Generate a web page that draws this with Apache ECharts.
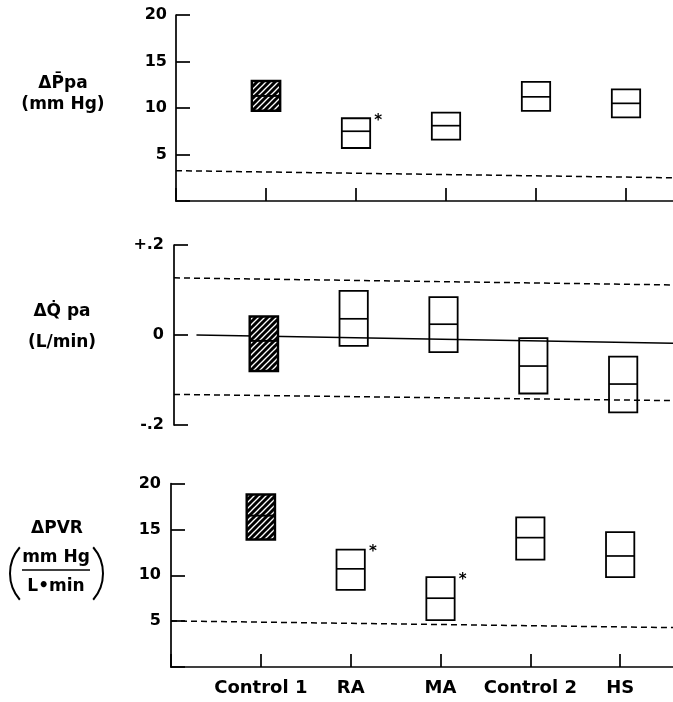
<!DOCTYPE html>
<html>
<head>
<meta charset="utf-8">
<script src="https://cdn.jsdelivr.net/npm/echarts@6/dist/echarts.min.js"></script>
<style>
  html, body { margin: 0; padding: 0; background: #fff; }
  #myChart { width: 673px; height: 702px; }
</style>
</head>
<body>
<div id="myChart"></div>
<script>
// categories on the x axis
const categories = ['Control 1', 'RA', 'MA', 'Control 2', 'HS'];

// ΔPpa (mm Hg): box bottom / middle / top
const ppaLow  = [9.7, 5.7, 6.6, 9.7, 9.0];
const ppaMid  = [11.3, 7.5, 8.1, 11.2, 10.5];
const ppaHigh = [12.9, 8.9, 9.5, 12.8, 12.0];
const ppaStar = [0, 1, 0, 0, 0];

// ΔQpa (L/min)
const qLow  = [-0.08, -0.024, -0.038, -0.13, -0.172];
const qMid  = [-0.013, 0.036, 0.024, -0.069, -0.109];
const qHigh = [0.041, 0.098, 0.084, -0.007, -0.048];
const qStar = [0, 0, 0, 0, 0];

// ΔPVR (mm Hg / L·min)
const pvrLow  = [13.9, 8.4, 5.1, 11.7, 9.8];
const pvrMid  = [16.5, 10.7, 7.5, 14.1, 12.1];
const pvrHigh = [18.8, 12.8, 9.8, 16.3, 14.7];
const pvrStar = [0, 1, 1, 0, 0];

// first group is the hatched one
const hatched = [1, 0, 0, 0, 0];

// dashed reference lines: value at left end, value at right end
const ppaRef   = [3.26, 2.43];
const qRefUp   = [0.127, 0.11];
const qRefLow  = [-0.132, -0.147];
const pvrRef   = [5.02, 4.24];
// solid zero line in the middle panel
const qZero = [[-0.75, 0], [5, -0.02]];

const FONT = '"DejaVu Sans", "Liberation Sans", Arial, sans-serif';

// hatch pattern: black with white diagonal stripes
function makeHatch() {
  const c = document.createElement('canvas');
  c.width = 6; c.height = 6;
  const ctx = c.getContext('2d');
  ctx.fillStyle = '#000';
  ctx.fillRect(0, 0, 6, 6);
  ctx.strokeStyle = '#fff';
  ctx.lineWidth = 1.3;
  [[0, 6, 6, 0], [-3, 3, 3, -3], [3, 9, 9, 3]].forEach(l => {
    ctx.beginPath();
    ctx.moveTo(l[0], l[1]);
    ctx.lineTo(l[2], l[3]);
    ctx.stroke();
  });
  return c;
}
const hatch = makeHatch();

function boxSeries(idx, low, mid, high, star) {
  return {
    type: 'custom',
    xAxisIndex: idx,
    yAxisIndex: idx,
    z: 5,
    data: categories.map((c, i) => [i, low[i], mid[i], high[i], hatched[i], star[i]]),
    renderItem: function (params, api) {
      const x = api.value(0);
      const w = api.size([1, 0])[0] * 0.315;
      const top = api.coord([x, api.value(3)]);
      const bot = api.coord([x, api.value(1)]);
      const m = api.coord([x, api.value(2)]);
      const isHatch = api.value(4) === 1;
      const children = [
        {
          type: 'rect',
          shape: { x: top[0] - w / 2, y: top[1], width: w, height: bot[1] - top[1] },
          style: {
            fill: isHatch ? { image: hatch, repeat: 'repeat' } : 'none',
            stroke: '#000',
            lineWidth: isHatch ? 2.4 : 1.8
          }
        },
        {
          type: 'line',
          shape: { x1: m[0] - w / 2, y1: m[1], x2: m[0] + w / 2, y2: m[1] },
          style: { stroke: '#000', lineWidth: isHatch ? 2 : 1.7 }
        }
      ];
      if (api.value(5) === 1) {
        children.push({
          type: 'text',
          style: {
            text: '*',
            x: top[0] + w / 2 + 8,
            y: top[1] + 3,
            textAlign: 'center',
            textVerticalAlign: 'middle',
            font: 'bold 15px ' + FONT,
            fill: '#000'
          }
        });
      }
      return { type: 'group', children: children };
    }
  };
}

function refLine(idx, pts, dashed) {
  return {
    type: 'line',
    xAxisIndex: idx,
    yAxisIndex: idx,
    z: 2,
    silent: true,
    symbol: 'none',
    data: pts,
    lineStyle: { color: '#000', width: 1.5, type: dashed ? [6, 4] : 'solid' }
  };
}

const axisLineStyle = { color: '#000', width: 1.7 };
const tickLabel = { color: '#000', fontFamily: FONT, fontWeight: 'bold', fontSize: 16 };

let myChart = echarts.init(document.getElementById('myChart'), null, { renderer: 'canvas' });

let option = {
  animation: false,
  backgroundColor: '#fff',
  grid: [
    { left: 176, right: -43, top: 15, bottom: 501, outerBoundsMode: 'none' },
    { left: 174, right: -40, top: 245, bottom: 277, outerBoundsMode: 'none' },
    { left: 171, right: -37, top: 483.5, bottom: 35, outerBoundsMode: 'none' }
  ],
  xAxis: [
    {
      type: 'value', gridIndex: 0, min: -1, max: 5, interval: 1,
      axisLine: { show: true, onZero: false, lineStyle: axisLineStyle },
      axisTick: { show: true, inside: true, length: 13, lineStyle: axisLineStyle },
      axisLabel: { show: false },
      splitLine: { show: false }
    },
    {
      type: 'value', gridIndex: 1, min: -1, max: 5, interval: 1,
      axisLine: { show: false, onZero: false }, axisTick: { show: false },
      axisLabel: { show: false }, splitLine: { show: false }
    },
    {
      type: 'value', gridIndex: 2, min: -1, max: 5, interval: 1,
      axisLine: { show: true, onZero: false, lineStyle: axisLineStyle },
      axisTick: { show: true, inside: true, length: 13, lineStyle: axisLineStyle },
      axisLabel: Object.assign({}, tickLabel, {
        fontSize: 18,
        margin: 12,
        formatter: v => (Number.isInteger(v) && v >= 0 && v < categories.length) ? categories[v] : ''
      }),
      splitLine: { show: false }
    }
  ],
  yAxis: [
    {
      type: 'value', gridIndex: 0, min: 0, max: 20, interval: 5,
      axisLine: { show: true, onZero: false, lineStyle: axisLineStyle },
      axisTick: { show: true, inside: true, length: 14, lineStyle: axisLineStyle },
      axisLabel: Object.assign({}, tickLabel, { margin: 9, formatter: v => v === 0 ? '' : String(v) }),
      splitLine: { show: false }
    },
    {
      type: 'value', gridIndex: 1, min: -0.2, max: 0.2, interval: 0.2,
      axisLine: { show: true, onZero: false, lineStyle: axisLineStyle },
      axisTick: { show: true, inside: true, length: 14, lineStyle: axisLineStyle },
      axisLabel: Object.assign({}, tickLabel, {
        margin: 10,
        formatter: v => v > 0.1 ? '+.2' : (v < -0.1 ? '-.2' : '0')
      }),
      splitLine: { show: false }
    },
    {
      type: 'value', gridIndex: 2, min: 0, max: 20, interval: 5,
      axisLine: { show: true, onZero: false, lineStyle: axisLineStyle },
      axisTick: { show: true, inside: true, length: 14, lineStyle: axisLineStyle },
      axisLabel: Object.assign({}, tickLabel, { margin: 10, formatter: v => v === 0 ? '' : String(v) }),
      splitLine: { show: false }
    }
  ],
  graphic: [
    { type: 'text', x: 63, y: 84, style: { text: 'ΔP\u0304pa', font: 'bold 17px ' + FONT, textAlign: 'center', textVerticalAlign: 'middle', fill: '#000' } },
    { type: 'text', x: 63, y: 105, style: { text: '(mm Hg)', font: 'bold 17px ' + FONT, textAlign: 'center', textVerticalAlign: 'middle', fill: '#000' } },
    { type: 'text', x: 62, y: 312, style: { text: 'ΔQ\u0307 pa', font: 'bold 17px ' + FONT, textAlign: 'center', textVerticalAlign: 'middle', fill: '#000' } },
    { type: 'text', x: 62, y: 343, style: { text: '(L/min)', font: 'bold 17px ' + FONT, textAlign: 'center', textVerticalAlign: 'middle', fill: '#000' } },
    { type: 'text', x: 57, y: 529, style: { text: 'ΔPVR', font: 'bold 17px ' + FONT, textAlign: 'center', textVerticalAlign: 'middle', fill: '#000' } },
    { type: 'text', x: 56, y: 558, style: { text: 'mm Hg', font: 'bold 17px ' + FONT, textAlign: 'center', textVerticalAlign: 'middle', fill: '#000' } },
    { type: 'line', shape: { x1: 22, y1: 570, x2: 90, y2: 570 }, style: { stroke: '#000', lineWidth: 1.5 } },
    { type: 'text', x: 56, y: 587, style: { text: 'L\u2022min', font: 'bold 17px ' + FONT, textAlign: 'center', textVerticalAlign: 'middle', fill: '#000' } },
    // big parentheses round the unit fraction
    { type: 'arc', shape: { cx: 50, cy: 573.5, r: 40, startAngle: Math.PI * (180 - 41) / 180, endAngle: Math.PI * (180 + 41) / 180 }, style: { stroke: '#000', lineWidth: 2, fill: 'none' } },
    { type: 'arc', shape: { cx: 63, cy: 573.5, r: 40, startAngle: -Math.PI * 41 / 180, endAngle: Math.PI * 41 / 180 }, style: { stroke: '#000', lineWidth: 2, fill: 'none' } }
  ],
  series: [
    refLine(0, [[-1, ppaRef[0]], [5, ppaRef[1]]], true),
    boxSeries(0, ppaLow, ppaMid, ppaHigh, ppaStar),
    refLine(1, [[-1, qRefUp[0]], [5, qRefUp[1]]], true),
    refLine(1, [[-1, qRefLow[0]], [5, qRefLow[1]]], true),
    refLine(1, qZero, false),
    boxSeries(1, qLow, qMid, qHigh, qStar),
    refLine(2, [[-1, pvrRef[0]], [5, pvrRef[1]]], true),
    boxSeries(2, pvrLow, pvrMid, pvrHigh, pvrStar)
  ]
};

myChart.setOption(option);
</script>
</body>
</html>
